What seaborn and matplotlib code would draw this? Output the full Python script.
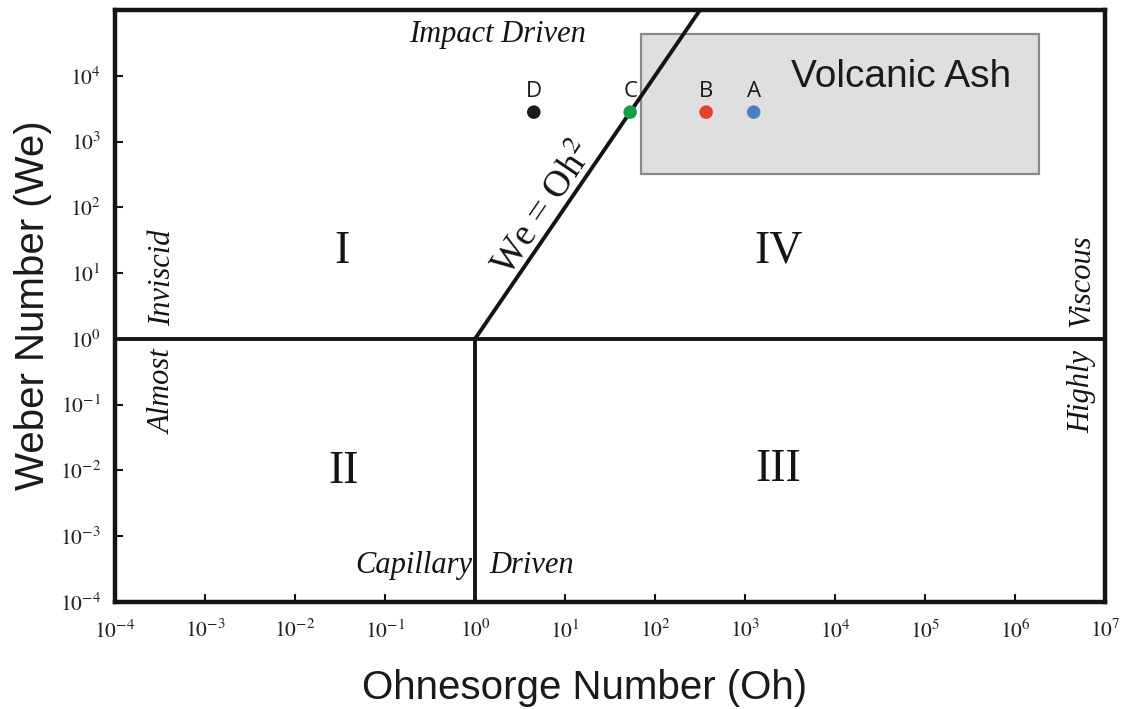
import numpy as np
import matplotlib
matplotlib.use("Agg")
import matplotlib.pyplot as plt
import seaborn as sns
from matplotlib.patches import Rectangle
from matplotlib.ticker import FixedLocator, FixedFormatter, NullLocator

# Droplet samples on the regime map
sample_names = ["D", "C", "B", "A"]
sample_oh = [4.5, 53, 370, 1250]
sample_we = [2800, 2800, 2800, 2800]
sample_colors = ["#1b1b1b", "#12a04a", "#e8402f", "#4a80c1"]

# Regime boundaries: Oh = 1, We = 1 and We = Oh^2
boundary_oh = 1.0
boundary_we = 1.0

# Range of volcanic ash
ash_oh = [70, 1.85e6]
ash_we = [320, 4.3e4]

# Axis ranges and decade ticks
x_range = [1e-4, 1e7]
y_range = [1e-4, 1e5]
x_exponents = list(range(-4, 8))
y_exponents = list(range(-4, 5))

regime_labels = ["I", "II", "III", "IV"]

sns.set_theme(style="white")
plt.rcParams["font.family"] = ["Liberation Sans", "DejaVu Sans"]
plt.rcParams["mathtext.fontset"] = "stix"

W, H = 1129, 709
fig = plt.figure(figsize=(W / 100, H / 100), dpi=100)
ax = fig.add_axes([115 / W, 1 - 602 / H, 990 / W, 592 / H])
ax.set_xscale("log")
ax.set_yscale("log")

ink = "#141414"
line_w = 2.8

# Boundary lines
sns.lineplot(x=x_range, y=[boundary_we, boundary_we], ax=ax, color=ink,
             linewidth=line_w, estimator=None, sort=False, zorder=3)
sns.lineplot(x=[boundary_oh, boundary_oh], y=[y_range[0], boundary_we], ax=ax,
             color=ink, linewidth=line_w, estimator=None, sort=False, zorder=3)
diag_oh = np.array([boundary_oh, np.sqrt(y_range[1])])
diag_we = diag_oh ** 2
sns.lineplot(x=diag_oh, y=diag_we, ax=ax, color=ink, linewidth=line_w,
             estimator=None, sort=False, zorder=3)

# Volcanic ash box
ax.add_patch(Rectangle((ash_oh[0], ash_we[0]), ash_oh[1] - ash_oh[0],
                       ash_we[1] - ash_we[0], facecolor="#dfdfdf",
                       edgecolor="#8a8a8a", linewidth=1.6, zorder=1))
ax.text(0.794, 0.887, "Volcanic Ash", transform=ax.transAxes, fontsize=28,
        ha="center", va="center", color="#1a1a1a", zorder=2)

# Samples
sns.scatterplot(x=sample_oh, y=sample_we, hue=sample_names,
                palette=dict(zip(sample_names, sample_colors)), s=95,
                edgecolor="none", legend=False, ax=ax, zorder=5)
for name, oh, we in zip(sample_names, sample_oh, sample_we):
    ax.annotate(name, (oh, we), xytext=(0, 11), textcoords="offset points",
                ha="center", va="baseline", fontsize=16, color="#1a1a1a",
                family=["Open Sans", "DejaVu Sans"])

ax.set_xlim(x_range)
ax.set_ylim(y_range)

# Regime annotations
serif = ["Liberation Serif", "DejaVu Serif"]
roman_pos = [(0.229, 0.591), (0.231, 0.220), (0.670, 0.223), (0.670, 0.593)]
for lab, (px, py) in zip(regime_labels, roman_pos):
    ax.text(px, py, lab, transform=ax.transAxes, fontsize=33, family=serif,
            ha="center", va="center", color=ink)

it = dict(transform=ax.transAxes, fontsize=22, family=serif, style="italic",
          color=ink, va="center")
ax.text(0.386, 0.958, "Impact Driven", ha="center", **it)
ax.text(0.3606, 0.061, "Capillary", ha="right", **it)
ax.text(0.378, 0.061, "Driven", ha="left", **it)
ax.text(0.0485, 0.547, "Inviscid", ha="center", rotation=90, **it)
ax.text(0.0485, 0.355, "Almost", ha="center", rotation=90, **it)
ax.text(0.977, 0.542, "Viscous", ha="center", rotation=90, **it)
ax.text(0.977, 0.355, "Highly", ha="center", rotation=90, **it)

ax.text(0.433, 0.664, r"We = Oh$^2$", transform=ax.transAxes, fontsize=27,
        family=serif, rotation=55.8, rotation_mode="anchor", ha="center",
        va="center", color=ink)

# Axes styling
for sp in ax.spines.values():
    sp.set_visible(True)
    sp.set_linewidth(3.2)
    sp.set_color(ink)
ax.xaxis.set_major_locator(FixedLocator([10.0 ** k for k in x_exponents]))
ax.xaxis.set_major_formatter(FixedFormatter([f"$10^{{{k}}}$" for k in x_exponents]))
ax.yaxis.set_major_locator(FixedLocator([10.0 ** k for k in y_exponents]))
ax.yaxis.set_major_formatter(FixedFormatter([f"$10^{{{k}}}$" for k in y_exponents]))
ax.xaxis.set_minor_locator(NullLocator())
ax.yaxis.set_minor_locator(NullLocator())
ax.tick_params(axis="both", which="major", direction="in", length=6, width=1.5,
               color=ink, labelsize=15.5, labelcolor="#222222",
               bottom=True, left=True, top=False, right=False)
ax.tick_params(axis="x", pad=13)
ax.tick_params(axis="y", pad=10)
ax.grid(False)

ax.set_xlabel("Ohnesorge Number (Oh)", fontsize=29, color="#1a1a1a")
ax.set_ylabel("Weber Number (We)", fontsize=29, color="#1a1a1a")
ax.xaxis.set_label_coords(0.474, -0.145)
ax.yaxis.set_label_coords(-0.0828, 0.502)
ax.xaxis.label.set_va("center")
ax.yaxis.label.set_va("center")

fig.savefig("out.png", dpi=100, facecolor="white")
